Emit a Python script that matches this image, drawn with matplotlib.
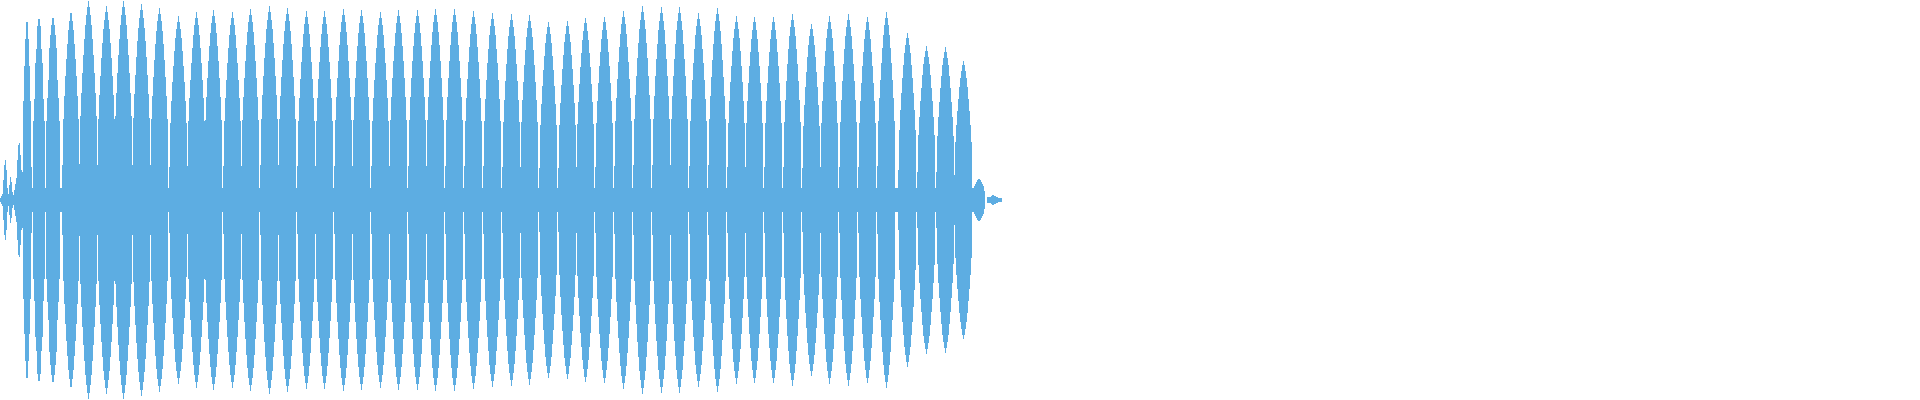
import numpy as np
import matplotlib
matplotlib.use("Agg")
import matplotlib.pyplot as plt

# ---- data (time in pixel columns, amplitude in px of half-height 200) ----
lobe_centers = [27, 39, 53, 71, 88, 106, 123, 141, 159, 178, 196, 213, 232, 250, 269, 287,
                306, 324, 343, 361, 380, 398, 417, 435, 454, 473, 492, 511, 529, 548, 567,
                585, 604, 623, 642, 661, 679, 698, 717, 736, 754, 773, 792, 811, 829, 848,
                867, 886, 907, 926, 945, 963, 979]
lobe_peaks = [183, 187, 188, 193, 199, 194, 199, 196, 192, 184, 188, 190, 188, 191, 194, 192,
              189, 189, 191, 190, 188, 190, 190, 191, 191, 189, 187, 186, 185, 178, 179,
              182, 183, 189, 194, 193, 193, 187, 192, 184, 183, 183, 186, 176, 184, 186,
              183, 188, 167, 154, 153, 139, 22]
lobe_widths = [0.5, 0.65, 0.8, 0.95] + [1.0] * 48 + [0.7]

# shape of one lobe: relative amplitude at column offsets 0..9 from its centre
profile_offsets = [0, 1, 2, 3, 4, 5, 6, 7, 8, 9]
profile_values = [1.00, 0.97, 0.93, 0.88, 0.81, 0.73, 0.64, 0.54, 0.42, 0.18]

# onset (columns 0..24) and tail (columns 988..1002)
onset_x = list(range(0, 25))
onset_amp = [2, 4, 6, 20, 35, 40, 30, 12, 6, 15, 23, 18, 8, 5, 10, 16, 22, 40, 55, 57, 45, 30, 28, 22, 20]
tail_x = [987, 988, 990, 991, 993, 995, 997, 999, 1001, 1002]
tail_amp = [3, 3, 3, 4, 5, 4, 3, 2, 2, 2]

band_x = [16, 976]
band_amp = [12, 12]

color = "#5DADE2"

fig = plt.figure(figsize=(19.2, 4.0), dpi=100)
ax = fig.add_axes([0, 0, 1, 1])
ax.set_xlim(0, 1920)
ax.set_ylim(-200, 200)
ax.axis("off")

off = np.array(profile_offsets, dtype=float)
val = np.array(profile_values)
full_off = np.concatenate([-off[::-1], off[1:]])
full_val = np.concatenate([val[::-1], val[1:]])

ax.fill_between(band_x, -np.array(band_amp), band_amp, color=color, linewidth=0)
ax.fill_between(onset_x, -np.array(onset_amp), onset_amp, step="mid", color=color, linewidth=0)
ax.fill_between(tail_x, -np.array(tail_amp), tail_amp, step="mid", color=color, linewidth=0)

for c, p, w in zip(lobe_centers, lobe_peaks, lobe_widths):
    xs = c + w * full_off
    ys = p * full_val
    ax.fill_between(xs, -ys, ys, step="mid", color=color, linewidth=0)

fig.savefig("out.png", dpi=100)
